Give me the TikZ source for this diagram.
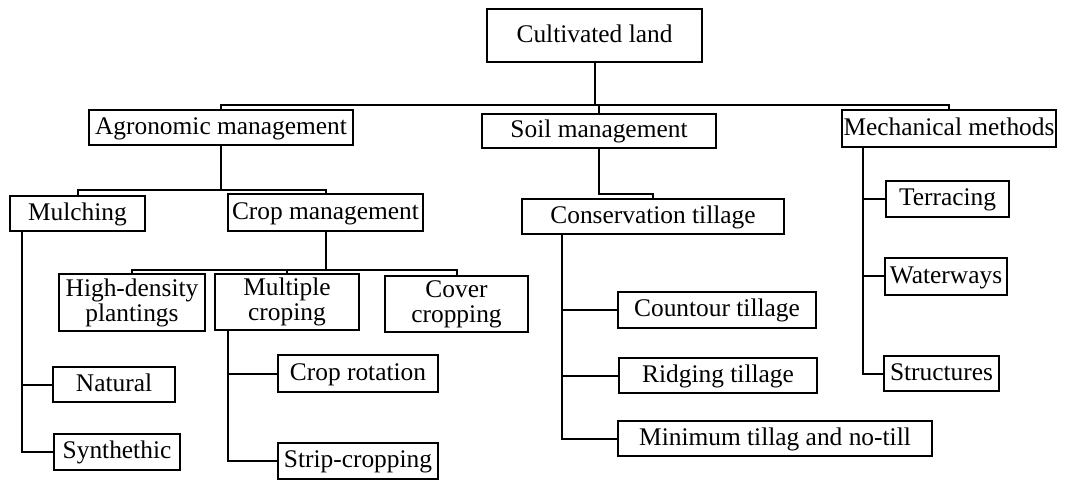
\documentclass[tikz,border=0pt]{standalone}
\usepackage{fontspec}
\setmainfont{Liberation Serif}

\begin{document}
\begin{tikzpicture}[x=0.5pt,y=-0.5pt,
  box/.style={draw,line width=0.7pt,inner sep=0pt,text height=0.68em,text depth=0.02em,
    font=\fontsize{12.7}{12.5}\selectfont},
  twobox/.style={draw,line width=0.7pt,inner sep=0pt,align=center,
    font=\fontsize{12.7}{12.5}\selectfont},
  link/.style={line width=1pt}]
\useasboundingbox (0,0) rectangle (1085,480);
% top levels
\node[box,minimum width=107.5pt,minimum height=26.5pt] (land) at (594.5,35.5) {Cultivated land};
\node[box,minimum width=132pt,minimum height=17.5pt] (agro) at (221,127.5) {Agronomic management};
\node[box,minimum width=117pt,minimum height=17pt] (soil) at (599,131) {Soil management};
\node[box,minimum width=107pt,minimum height=18.5pt] (mech) at (949,128.5) {Mechanical methods};
% agronomic branch
\node[box,minimum width=67.5pt,minimum height=17.5pt] (mulch) at (77.5,213.5) {Mulching};
\node[box,minimum width=97.5pt,minimum height=18.5pt] (cropm) at (325.5,212.5) {Crop management};
\node[twobox,minimum width=73pt,minimum height=28.5pt] (highd) at (132,302.5) {High-density\\plantings};
\node[twobox,minimum width=72pt,minimum height=28pt] (multi) at (287,302) {Multiple\\croping};
\node[twobox,minimum width=71.5pt,minimum height=28pt] (cover) at (456.5,304) {Cover\\cropping};
\node[box,minimum width=61pt,minimum height=17.5pt] (natural) at (114,384.5) {Natural};
\node[box,minimum width=63pt,minimum height=18pt] (synth) at (117,452) {Synthethic};
\node[box,minimum width=80pt,minimum height=18.5pt] (rotation) at (358,373.5) {Crop rotation};
\node[box,minimum width=80pt,minimum height=18pt] (strip) at (358,461) {Strip-cropping};
% soil branch
\node[box,minimum width=131pt,minimum height=17.5pt] (constill) at (653,216.5) {Conservation tillage};
\node[box,minimum width=99pt,minimum height=18pt] (contour) at (717,310) {Countour tillage};
\node[box,minimum width=99pt,minimum height=17.5pt] (ridging) at (718,375.5) {Ridging tillage};
\node[box,minimum width=157pt,minimum height=17.5pt] (minimum) at (775,438.5) {Minimum tillag and no-till};
% mechanical branch
\node[box,minimum width=61.5pt,minimum height=18pt] (terrace) at (947.5,199) {Terracing};
\node[box,minimum width=61pt,minimum height=18.5pt] (water) at (946,276.5) {Waterways};
\node[box,minimum width=57.5pt,minimum height=17.5pt] (struct) at (941.5,373.5) {Structures};

% connectors
\draw[link] (land.south) -- ++(0,42) coordinate (bus1);
\draw[link] (agro.north) |- (bus1) -| (mech.north);
\draw[link] (soil.north) -- (soil.north |- bus1);

\draw[link] (agro.south) -- ++(0,44) coordinate (bus2);
\draw[link] (mulch.north) |- (bus2) -| (cropm.north);

\draw[link] (cropm.south) -- ++(0,38) coordinate (bus3);
\draw[link] (highd.north) |- (bus3) -| (cover.north);
\draw[link] (multi.north) -- (multi.north |- bus3);

\coordinate (m1) at ([xshift=6.5pt]mulch.south west);
\draw[link] (m1) |- (synth.west);
\draw[link] (natural.west) -- (natural.west -| m1);

\coordinate (m2) at ([xshift=7pt]multi.south west);
\draw[link] (m2) |- (strip.west);
\draw[link] (rotation.west) -- (rotation.west -| m2);

\draw[link] (soil.south) -- ++(0,45) -| (constill.north);
\coordinate (m3) at ([xshift=20.5pt]constill.south west);
\draw[link] (m3) |- (minimum.west);
\draw[link] (contour.west) -- (contour.west -| m3);
\draw[link] (ridging.west) -- (ridging.west -| m3);

\coordinate (m4) at ([xshift=11pt]mech.south west);
\draw[link] (m4) |- (struct.west);
\draw[link] (terrace.west) -- (terrace.west -| m4);
\draw[link] (water.west) -- (water.west -| m4);
\end{tikzpicture}
\end{document}
